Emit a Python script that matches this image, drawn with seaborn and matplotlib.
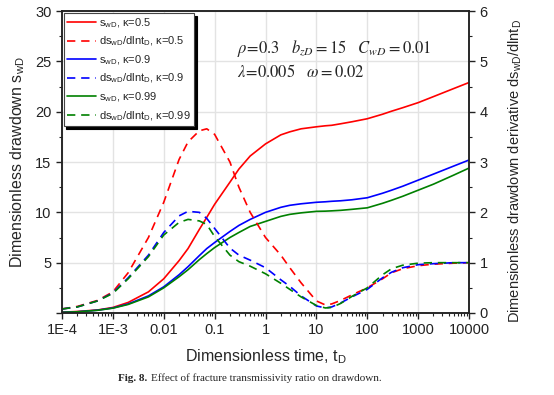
import pandas as pd
import matplotlib
matplotlib.use('Agg')
import matplotlib.pyplot as plt
import seaborn as sns
from matplotlib.ticker import FixedLocator, MultipleLocator, LogLocator, NullFormatter

# time points (dimensionless)
t_D = [1e-4, 2e-4, 5e-4, 1e-3, 2e-3, 5e-3, 0.01, 0.02, 0.03, 0.05, 0.07, 0.1, 0.2, 0.3, 0.5,
       1, 2, 3, 5, 10, 15, 20, 30, 50, 100, 200, 300, 500, 1000, 2000, 5000, 10000]

# drawdown s_wD
s_k05 = [0.08, 0.15, 0.3, 0.55, 1.05, 2.1, 3.4, 5.2, 6.4, 8.3, 9.5, 10.8, 13.0, 14.3, 15.6,
         16.8, 17.7, 18.0, 18.3, 18.5, 18.6, 18.65, 18.8, 19.0, 19.3, 19.75, 20.05, 20.4, 20.9, 21.5, 22.3, 22.9]
s_k09 = [0.07, 0.12, 0.28, 0.5, 0.9, 1.7, 2.6, 3.8, 4.6, 5.7, 6.4, 7.0, 8.1, 8.7, 9.3,
         10.0, 10.5, 10.7, 10.85, 11.0, 11.05, 11.1, 11.15, 11.25, 11.45, 11.9, 12.2, 12.6, 13.2, 13.8, 14.6, 15.2]
s_k099 = [0.07, 0.12, 0.27, 0.48, 0.85, 1.6, 2.5, 3.6, 4.3, 5.3, 5.9, 6.5, 7.5, 8.0, 8.6,
          9.1, 9.6, 9.8, 9.95, 10.1, 10.12, 10.15, 10.2, 10.3, 10.45, 10.9, 11.2, 11.6, 12.2, 12.8, 13.7, 14.4]

# derivative ds_wD/dlnt_D
d_k05 = [0.08, 0.13, 0.25, 0.42, 0.8, 1.5, 2.2, 3.05, 3.4, 3.62, 3.66, 3.55, 3.0, 2.5, 2.0,
         1.5, 1.15, 0.9, 0.6, 0.24, 0.16, 0.18, 0.25, 0.36, 0.5, 0.68, 0.8, 0.88, 0.94, 0.97, 0.99, 1.0]
d_k09 = [0.08, 0.12, 0.24, 0.4, 0.7, 1.15, 1.6, 1.93, 2.02, 2.0, 1.88, 1.68, 1.29, 1.15, 1.05,
         0.9, 0.66, 0.53, 0.34, 0.14, 0.1, 0.12, 0.2, 0.32, 0.47, 0.7, 0.81, 0.9, 0.96, 0.98, 1.0, 1.0]
d_k099 = [0.08, 0.12, 0.24, 0.39, 0.68, 1.12, 1.55, 1.8, 1.86, 1.83, 1.76, 1.52, 1.15, 1.02, 0.93,
          0.78, 0.59, 0.47, 0.32, 0.15, 0.1, 0.11, 0.19, 0.33, 0.5, 0.76, 0.88, 0.95, 0.99, 1.0, 1.0, 1.0]

kappas = ['0.5', '0.9', '0.99']
colors = ['red', 'blue', 'green']

x_ticks = [1e-4, 1e-3, 0.01, 0.1, 1, 10, 100, 1000, 10000]
x_ticklabels = ['1E-4', '1E-3', '0.01', '0.1', '1', '10', '100', '1000', '10000']

sns.set_style('whitegrid')
plt.rcParams['font.family'] = ['Liberation Sans', 'DejaVu Sans']
plt.rcParams['mathtext.fontset'] = 'custom'
plt.rcParams['mathtext.rm'] = 'Liberation Sans'
plt.rcParams['mathtext.it'] = 'Liberation Sans'

fig = plt.figure(figsize=(5.54, 3.95), dpi=100)
ax = fig.add_axes([0.1119, 0.2076, 0.7347, 0.7644])
ax2 = ax.twinx()

handles = []
for s, d, k, c in zip([s_k05, s_k09, s_k099], [d_k05, d_k09, d_k099], kappas, colors):
    sns.lineplot(x=t_D, y=s, ax=ax, color=c, lw=1.2)
    h1 = ax.lines[-1]
    sns.lineplot(x=t_D, y=d, ax=ax2, color=c, lw=1.2)
    h2 = ax2.lines[-1]
    h2.set_dashes([5, 3.5])
    h1.set_label(r'$\mathregular{s_{wD}}$, κ=' + k)
    h2.set_label(r'$\mathregular{ds_{wD}/dlnt_{D}}$, κ=' + k)
    handles += [h1, h2]

ax.set_xscale('log')
ax.set_xlim(1e-4, 1e4)
ax.set_ylim(0, 30)
ax2.set_ylim(0, 6)

ax.xaxis.set_major_locator(FixedLocator(x_ticks))
ax.set_xticklabels(x_ticklabels)
ax.xaxis.set_minor_locator(LogLocator(base=10, subs=range(2, 10), numticks=20))
ax.xaxis.set_minor_formatter(NullFormatter())
ax.set_yticks([0, 5, 10, 15, 20, 25, 30])
ax.set_yticklabels(['', '5', '10', '15', '20', '25', '30'])
ax.yaxis.set_minor_locator(MultipleLocator(2.5))
ax2.yaxis.set_major_locator(MultipleLocator(1))
ax2.yaxis.set_minor_locator(MultipleLocator(0.5))

ax.grid(True, which='major', color='#e3e3e3', lw=1)
ax2.grid(False)
for a in (ax, ax2):
    for sp in a.spines.values():
        sp.set_color('#222222')
        sp.set_linewidth(1.1)
    a.tick_params(which='both', direction='out', colors='#222222', labelsize=10.5)
    a.tick_params(which='major', length=4, width=1)
    a.tick_params(which='minor', length=2.5, width=0.8)
ax.tick_params(axis='y', which='both', left=True, right=False)
ax.tick_params(axis='x', which='both', bottom=True)
ax2.tick_params(axis='y', which='both', right=True, left=False)

ax.set_xlabel(r'Dimensionless time, $\mathregular{t_D}$', fontsize=11.5, labelpad=7)
ax.set_ylabel(r'Dimensionless drawdown $\mathregular{s_{wD}}$', fontsize=11.5, labelpad=6)
ax2.set_ylabel(r'Dimensionless drawdown derivative $\mathregular{ds_{wD}/dlnt_{D}}$', fontsize=10.5)
ax2.yaxis.set_label_coords(1.092, 0.47)

leg = ax2.legend(handles=handles, loc='upper left', bbox_to_anchor=(0.0, 1.0), fontsize=8,
                 frameon=True, fancybox=False, edgecolor='#444444', framealpha=1,
                 shadow={'color': 'black', 'alpha': 1}, handlelength=2.6, borderpad=0.3,
                 labelspacing=0.45, handletextpad=0.3, borderaxespad=0.15)
leg.get_frame().set_linewidth(0.8)

ax.text(0.43, 0.86, r'$\rho\!=\!0.3\quad b_{zD}=15\quad C_{wD}=0.01$', transform=ax.transAxes,
        fontsize=12, math_fontfamily='stix')
ax.text(0.43, 0.78, r'$\lambda\!=\!0.005\quad \omega=0.02$', transform=ax.transAxes,
        fontsize=12, math_fontfamily='stix')

cap_font = ['Liberation Serif', 'DejaVu Serif']
fig.text(118 / 554, 0.035, 'Fig. 8.', fontsize=8, family=cap_font, fontweight='bold', ha='left')
fig.text(151 / 554, 0.035, 'Effect of fracture transmissivity ratio on drawdown.', fontsize=8,
         family=cap_font, ha='left')

fig.savefig('out.png', dpi=100)
